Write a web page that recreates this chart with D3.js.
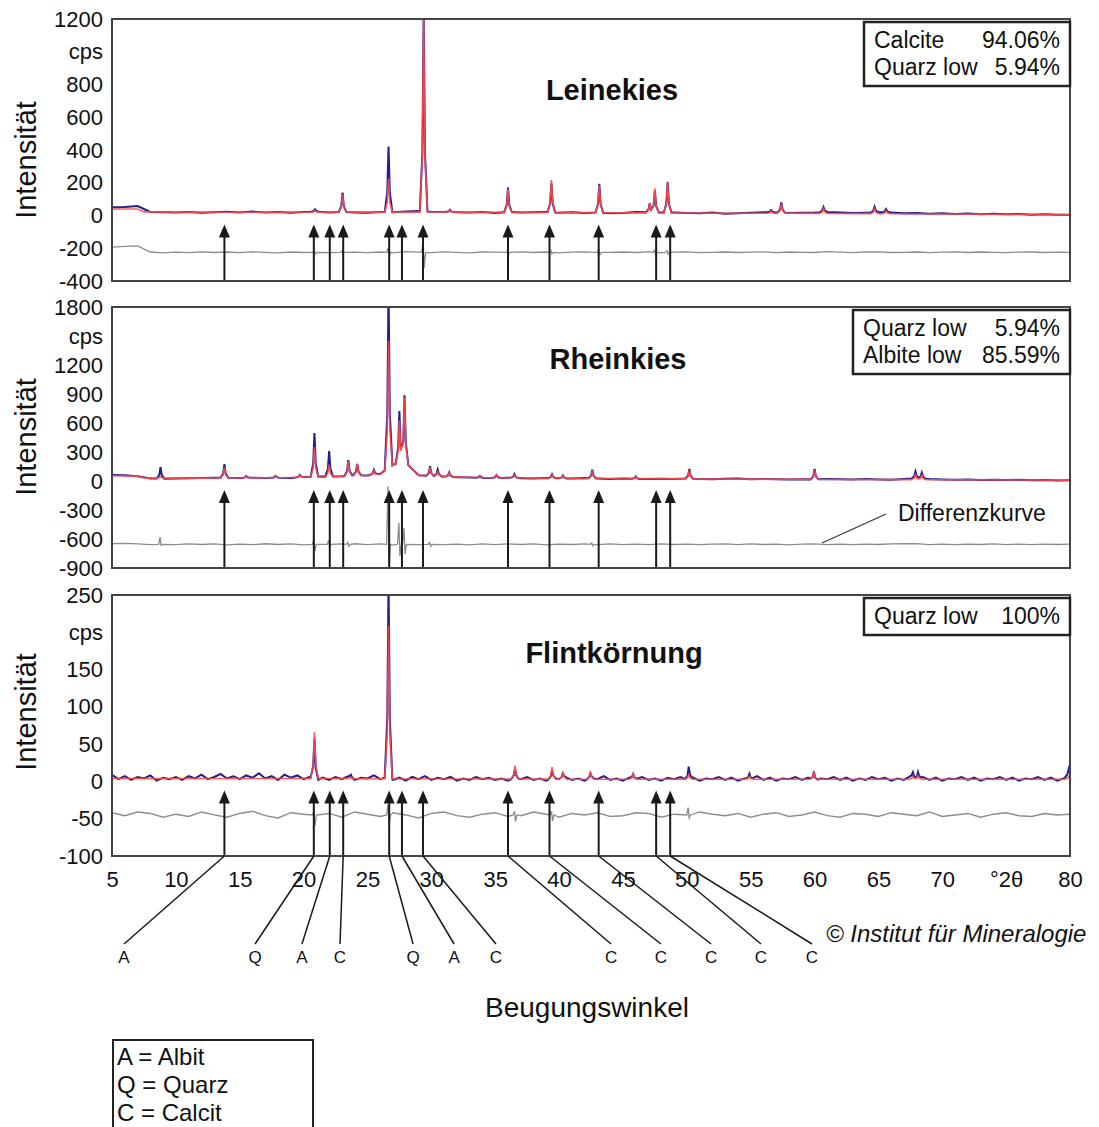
<!DOCTYPE html>
<html>
<head>
<meta charset="utf-8">
<script src="https://cdn.jsdelivr.net/npm/d3@7"></script>
<style>
  body { margin: 0; background: #fff; }
  svg text { font-family: "Liberation Sans", Arial, sans-serif; fill: #111; }
</style>
</head>
<body>
<svg id="chart"></svg>
<script>
// ---- data ----------------------------------------------------------------
// 2theta grid of the background readings (1 deg, flint observed 0.5 deg)
var grid1 = d3.range(5, 80.5, 1)
var grid05 = d3.range(5, 80.25, 0.5)

// Leinekies
var leineTicks = [1200, 1000, 800, 600, 400, 200, 0, -200, -400]
var leineObsBg = [50,52,58,22,20,18,21,17,20,23, 19,24,18,22,17,21,24,18,22,19,
  17,22,20,24,27,23,22,20,18,21, 16,22,18,20,22,17,20,15,19,14,
  16,21,20,19,18,15,13,18,11,14, 17,20,18,16,17,18,22,19,15,17,
  20,18,14,15,11,13,9,12,8,11, 7,9,5,7,4,5]
var leineCalcBase = [[5,40],[7,40],[7.5,22],[10,20],[20,20],[30,21],[40,18],[50,15],[60,13],[70,9],[80,5]]
// [2theta, observed height, calculated height]
var leinePeaks = [[20.9,14,10],[23.05,118,108],[26.65,400,205],[29.4,1210,1175],[31.45,14,12],
  [36.0,148,142],[39.4,178,198],[43.15,176,168],[47.1,55,58],[47.5,132,150],[48.5,185,190],
  [56.6,14,12],[57.4,62,55],[60.7,30,28],[64.7,34,30],[65.6,20,18]]
var leineDiff = [32,36,40,2,-3,1,-2,3,-1,2, -2,3,0,-3,2,-1,4,-2,3,1,
  -2,2,-3,4,1,-2,3,0,-3,2, 1,-2,3,-1,2,-3,1,3,-2,0,
  2,-1,3,-2,1,3,-2,0,2,-1, 1,3,-2,2,0,-1,4,1,-2,2,
  3,-1,0,2,-2,1,3,-1,2,0, -2,1,2,-1,1,0]
var leineDiffSpikes = [[20.9,6,-8],[23.05,10,-8],[26.65,25,-25],[29.4,75,-95],[36.0,8,-10],
  [39.4,12,-10],[43.15,15,-15],[47.5,12,-10],[48.5,10,-12]]
var leineDiffOffset = -225
var leinePhases = [['Calcite', '94.06%'], ['Quarz low', '5.94%']]

// Rheinkies
var rheinTicks = [1800, 1500, 1200, 900, 600, 300, 0, -300, -600, -900]
var rheinObsBg = [62,60,48,26,24,26,28,30,33,35, 31,34,30,35,32,42,46,45,50,62,
  58,75,170,190,60,52,46,40,36,32, 31,34,29,26,30,28,26,31,25,21,
  26,22,20,24,21,26,20,18,22,25, 18,21,18,15,19,16,21,18,15,20,
  15,12,20,30,20,15,12,15,10,12, 10,12,8,10,6,8]
var rheinCalcBase = [[5,55],[7,50],[7.6,30],[12,30],[18,34],[20,40],[23,45],[24,55],[25,55],[26,70],
  [27,165],[28,185],[29,60],[31,45],[35,32],[40,28],[50,22],[60,18],[70,13],[80,8]]
var rheinPeaks = [[8.8,120,12],[13.8,140,110],[15.5,18,15],[17.8,18,15],[19.7,25,22],[20.85,450,310],
  [22.0,265,125],[23.5,160,150],[24.2,115,120],[25.5,50,45],[26.65,1850,1320],[27.5,545,450],
  [27.9,700,680],[29.9,100,90],[30.5,70,45],[31.4,45,40],[33.8,20,15],[35.1,30,28],[36.5,40,30],
  [39.45,40,35],[40.3,30,25],[42.6,90,80],[46.0,25,22],[50.2,100,90],[60.0,110,95],[67.9,70,50],[68.4,60,45]]
var rheinDiff = [8,10,5,-3,6,-4,5,-2,4,-5, 3,-4,6,-2,5,-6,8,-5,4,6,
  -4,5,-8,6,-3,5,-4,3,-5,4, -3,5,-2,4,-6,3,-2,5,-3,4,
  -4,2,-3,5,-2,3,-4,2,5,-3, 4,-2,3,-5,2,4,-3,2,-4,3,
  -2,4,6,8,-3,2,-4,3,-2,4, -3,2,-4,3,-2,2]
var rheinDiffSpikes = [[8.8,75,-10],[20.85,60,-70],[22.0,40,-30],[23.5,20,-20],[26.65,600,-260],
  [27.5,220,-120],[27.9,170,-100],[29.9,20,-20],[42.6,15,-15]]
var rheinDiffOffset = -655
var rheinPhases = [['Quarz low', '5.94%'], ['Albite low', '85.59%']]

// Flintkoernung
var flintTicks = [250, 200, 150, 100, 50, 0, -50, -100]
var flintObsBg = [9,3,7,2,6,4,8,1,5,3, 6,2,7,4,9,3,6,10,4,7, 3,8,5,11,4,7,2,9,5,8,
  3,6,1,5,2,6,3,7,2,5, 4,8,3,6,2,5,1,6,3,7, 2,5,3,6,1,4,2,6,3,5,
  2,4,1,5,3,6,2,4,1,5, 3,6,2,4,1,5,3,7,2,4, 1,5,3,6,2,4,1,5,3,6,
  2,5,1,4,3,6,2,5,1,4, 3,7,2,5,1,4,3,6,2,5, 1,4,3,6,2,5,1,4,2,6,
  3,5,1,4,2,7,3,6,2,5, 1,4,3,6,2,5,1,4,3,6, 2,5,1,4,3,6,2,5,1,4, 9]
var flintCalcBase = [[5,4],[20,4],[40,3],[60,3],[80,3]]
var flintPeaks = [[20.85,55,62],[23.7,4,2],[26.65,265,205],[36.55,12,18],[39.45,10,16],[40.3,6,10],
  [42.45,6,9],[45.8,6,7],[50.15,17,6],[54.9,7,4],[59.95,12,9],[67.7,7,4],[68.1,9,5],[79.9,9,4]]
var flintDiff = [3,-1,4,2,-3,1,-2,4,0,-3, 2,5,-1,-4,3,1,-2,2,-3,4,
  1,-2,3,0,-4,2,4,-1,-3,1, 3,-2,-1,4,1,-3,2,0,3,-2,
  -1,3,2,-3,1,-2,4,1,-1,2, -3,1,3,-2,0,4,-1,-3,2,1,
  -2,3,1,-1,4,-2,0,2,-3,1, 3,-1,-2,2,0,1]
var flintDiffSpikes = [[20.85,6,-15],[26.65,14,-14],[36.55,5,-9],[39.45,5,-8],[50.15,10,-4]]
var flintDiffOffset = -45
var flintPhases = [['Quarz low', '100%']]

// reflection markers (2theta) and their phase letters
var markerDeg = [13.8, 20.8, 22.05, 23.1, 26.7, 27.7, 29.35, 36.0, 39.25, 43.1, 47.6, 48.7]
var markerPhase = ['A', 'Q', 'A', 'C', 'Q', 'A', 'C', 'C', 'C', 'C', 'C', 'C']
var xTicks = [5, 10, 15, 20, 25, 30, 35, 40, 45, 50, 55, 60, 65, 70, 75, 80]
var legendRows = ['A = Albit', 'Q = Quarz', 'C = Calcit']

// ---- layout ----------------------------------------------------------------
var width = 1099, height = 1127
var svg = d3.select('#chart').attr('width', width).attr('height', height)
var left = 112, right = 1070
var x = d3.scaleLinear().domain([5, 80]).range([left, right])
// where the phase letters sit below the axis (2theta units)
var calloutDeg = [5.94, 16.2, 19.87, 22.85, 28.57, 31.78, 35.06, 44.07, 47.98, 51.9, 55.81, 59.8]

var panels = [
  { id: 'p1', title: 'Leinekies', top: 19, bottom: 281, ticks: leineTicks, cps: 1000,
    grid: grid1, obs: leineObsBg, calc: leineCalcBase, peaks: leinePeaks,
    diff: leineDiff, spikes: leineDiffSpikes, off: leineDiffOffset, phases: leinePhases,
    box: [864, 22, 1070, 86], titleX: 612, titleY: 100, labelY: 160 },
  { id: 'p2', title: 'Rheinkies', top: 307, bottom: 568, ticks: rheinTicks, cps: 1500,
    grid: grid1, obs: rheinObsBg, calc: rheinCalcBase, peaks: rheinPeaks,
    diff: rheinDiff, spikes: rheinDiffSpikes, off: rheinDiffOffset, phases: rheinPhases,
    box: [853, 310, 1070, 374], titleX: 618, titleY: 369, labelY: 437 },
  { id: 'p3', title: 'Flintkörnung', top: 595, bottom: 856, ticks: flintTicks, cps: 200,
    grid: grid05, obs: flintObsBg, calc: flintCalcBase, peaks: flintPeaks,
    diff: flintDiff, spikes: flintDiffSpikes, off: flintDiffOffset, phases: flintPhases,
    box: [864, 598, 1070, 635], titleX: 614, titleY: 663, labelY: 712 }
]

// peak outline (offset from centre in deg -> share of peak height)
var peakShape = d3.scaleLinear().domain([-0.3, -0.1, 0, 0.1, 0.3]).range([0, 0.3, 1, 0.3, 0]).clamp(true)

// background pairs + peak apexes -> polyline vertices
function profile (base, peaks, k) {
  var baseAt = d3.scaleLinear().domain(base.map(d => d[0])).range(base.map(d => d[1]))
  var xs = base.map(d => d[0]).filter(v => !peaks.some(p => Math.abs(p[0] - v) < 0.31))
  peaks.forEach(function (p) {
    [-0.3, -0.1, 0, 0.1, 0.3].forEach(o => xs.push(p[0] + o))
  })
  xs.sort((a, b) => a - b)
  return xs.map(function (v) {
    var top = d3.max(peaks, p => p[k] * peakShape(v - p[0]))
    var b = base.find(d => d[0] === v)
    return [v, (b ? b[1] : baseAt(v)) + top]
  })
}

function diffLine (diff, spikes, off) {
  var pts = grid1.map((g, i) => [g, off + diff[i]])
    .filter(d => !spikes.some(s => Math.abs(s[0] - d[0]) < 0.2))
  spikes.forEach(function (s) {
    pts.push([s[0] - 0.15, off], [s[0] - 0.04, off + s[1]], [s[0] + 0.04, off + s[2]], [s[0] + 0.15, off])
  })
  return pts.sort((a, b) => a[0] - b[0])
}

panels.forEach(function (p) {
  var y = d3.scaleLinear().domain([p.ticks[p.ticks.length - 1], p.ticks[0]]).range([p.bottom, p.top])
  var g = svg.append('g')
  var line = d3.line().x(d => x(d[0])).y(d => y(d[1]))

  g.append('clipPath').attr('id', 'clip-' + p.id)
    .append('rect').attr('x', left).attr('y', p.top).attr('width', right - left).attr('height', p.bottom - p.top)
  var plot = g.append('g').attr('clip-path', 'url(#clip-' + p.id + ')')

  plot.append('path').attr('d', line(diffLine(p.diff, p.spikes, p.off)))
    .attr('fill', 'none').attr('stroke', '#8c8c8c').attr('stroke-width', 1.3)
  var obsBase = p.grid.map((v, i) => [v, p.obs[i]])
  plot.append('path').attr('d', line(profile(obsBase, p.peaks, 1)))
    .attr('fill', 'none').attr('stroke', '#1f1f8f').attr('stroke-width', 2)
  plot.append('path').attr('d', line(profile(p.calc, p.peaks, 2)))
    .attr('fill', 'none').attr('stroke', '#ff4a4a').attr('stroke-width', 1.6).attr('opacity', 0.9)

  // reflection arrows
  var tip = y(0) + 9
  markerDeg.forEach(function (m) {
    g.append('line').attr('x1', x(m)).attr('x2', x(m)).attr('y1', tip + 10).attr('y2', p.bottom)
      .attr('stroke', '#1a1a1a').attr('stroke-width', 2)
    g.append('path').attr('d', 'M' + x(m) + ',' + tip + 'l-5.5,13h11z').attr('fill', '#1a1a1a')
  })

  g.append('rect').attr('x', left).attr('y', p.top).attr('width', right - left).attr('height', p.bottom - p.top)
    .attr('fill', 'none').attr('stroke', '#444').attr('stroke-width', 2)

  var yAxis = d3.axisLeft(y).tickValues(p.ticks).tickSize(0).tickPadding(9)
    .tickFormat(d => d === p.cps ? 'cps' : d)
  var ya = g.append('g').attr('transform', 'translate(' + left + ',0)').call(yAxis)
  ya.select('.domain').remove()
  ya.selectAll('text').attr('font-size', 22).attr('fill', '#111')
    .attr('font-family', '"Liberation Sans", Arial, sans-serif')

  g.append('text').attr('transform', 'translate(26,' + p.labelY + ') rotate(-90)')
    .attr('text-anchor', 'middle').attr('dy', '0.35em').attr('font-size', 29).text('Intensität')

  g.append('text').attr('x', p.titleX).attr('y', p.titleY).attr('text-anchor', 'middle')
    .attr('font-size', 29).attr('font-weight', 'bold').text(p.title)

  var b = p.box
  g.append('rect').attr('x', b[0]).attr('y', b[1]).attr('width', b[2] - b[0]).attr('height', b[3] - b[1])
    .attr('fill', '#fff').attr('stroke', '#222').attr('stroke-width', 2.5)
  p.phases.forEach(function (r, i) {
    var by = b[1] + 26 + i * 27
    g.append('text').attr('x', b[0] + 10).attr('y', by).attr('font-size', 23).text(r[0])
    g.append('text').attr('x', b[2] - 10).attr('y', by).attr('font-size', 23).attr('text-anchor', 'end').text(r[1])
  })
})

// Differenzkurve annotation (middle panel)
svg.append('line').attr('x1', 886).attr('y1', 514).attr('x2', 822).attr('y2', 543)
  .attr('stroke', '#333').attr('stroke-width', 1.2)
svg.append('text').attr('x', 898).attr('y', 521).attr('font-size', 23).text('Differenzkurve')

// x axis
var xAxis = d3.axisBottom(x).tickValues(xTicks).tickSize(0).tickPadding(15)
  .tickFormat(d => d === 75 ? '°2θ' : d)
var xa = svg.append('g').attr('transform', 'translate(0,856)').call(xAxis)
xa.select('.domain').remove()
xa.selectAll('text').attr('font-size', 22).attr('fill', '#111')
  .attr('font-family', '"Liberation Sans", Arial, sans-serif')

// callout lines from markers to phase letters
markerDeg.forEach(function (m, i) {
  svg.append('line').attr('x1', x(m)).attr('y1', 856).attr('x2', x(calloutDeg[i])).attr('y2', 944)
    .attr('stroke', '#1a1a1a').attr('stroke-width', 1.5)
  svg.append('text').attr('x', x(calloutDeg[i])).attr('y', 963).attr('text-anchor', 'middle')
    .attr('font-size', 17).text(markerPhase[i])
})

svg.append('text').attr('x', 826).attr('y', 942).attr('font-size', 24).attr('font-style', 'italic')
  .text('© Institut für Mineralogie')
svg.append('text').attr('x', 587).attr('y', 1017).attr('text-anchor', 'middle')
  .attr('font-size', 28).text('Beugungswinkel')

// legend
svg.append('rect').attr('x', 113).attr('y', 1040).attr('width', 200).attr('height', 100)
  .attr('fill', 'none').attr('stroke', '#222').attr('stroke-width', 2)
legendRows.forEach(function (r, i) {
  svg.append('text').attr('x', 117).attr('y', 1065 + i * 28).attr('font-size', 24).text(r)
})
</script>
</body>
</html>
